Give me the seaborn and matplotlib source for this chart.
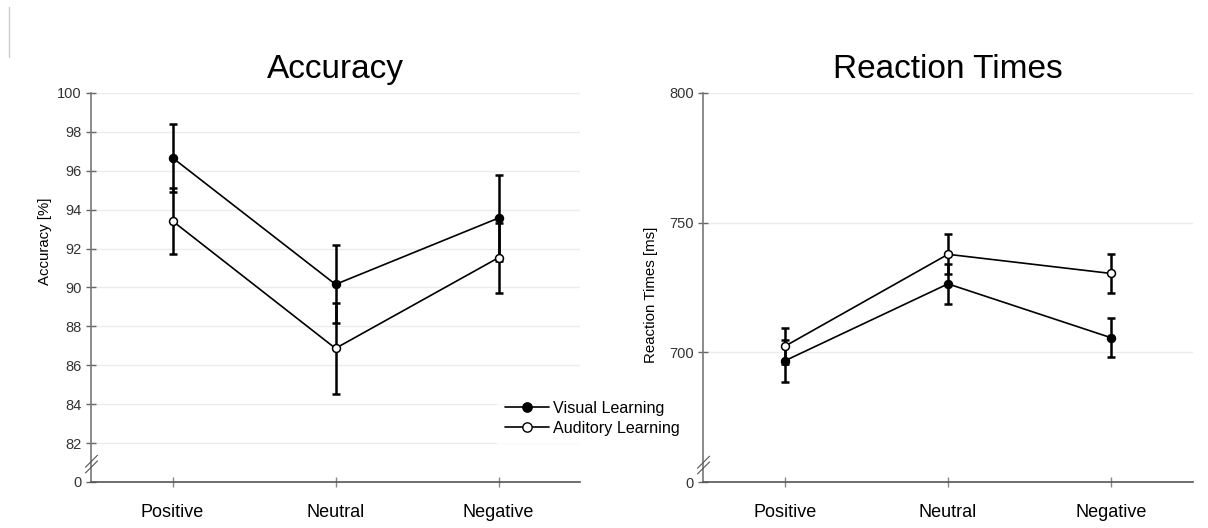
import numpy as np
import pandas as pd
import matplotlib
matplotlib.use("Agg")
import matplotlib.pyplot as plt
from matplotlib.lines import Line2D
from matplotlib.path import Path
import seaborn as sns

# ---- data -------------------------------------------------------------
conditions = ["Positive", "Neutral", "Negative"]
groups = ["Visual Learning", "Auditory Learning"]

acc_visual = [96.67, 90.16, 93.57]
acc_visual_err = [1.75, 2.00, 2.20]
acc_auditory = [93.42, 86.87, 91.53]
acc_auditory_err = [1.70, 2.34, 1.80]

rt_visual = [696.7, 726.4, 705.6]
rt_visual_err = [8.0, 7.6, 7.55]
rt_auditory = [702.3, 737.8, 730.4]
rt_auditory_err = [6.9, 7.7, 7.6]

acc_ticks = [80, 82, 84, 86, 88, 90, 92, 94, 96, 98, 100]
acc_ticklabels = ["0", "82", "84", "86", "88", "90", "92", "94", "96", "98", "100"]
rt_ticks = [650, 700, 750, 800]
rt_ticklabels = ["0", "700", "750", "800"]

# ---- style ------------------------------------------------------------
sns.set_theme(style="white")
plt.rcParams["font.family"] = ["Liberation Sans", "DejaVu Sans"]

W, H = 1208, 528
fig = plt.figure(figsize=(W / 100, H / 100), dpi=100)
ax1 = fig.add_axes([91 / W, 1 - 482 / H, 489 / W, 389 / H])
ax2 = fig.add_axes([703 / W, 1 - 482 / H, 490 / W, 389 / H])

spine_col = "#555555"
grid_col = "#ececec"
MS = 5.7
LW = 1.2

# axis-break glyph: two short parallel slashes
break_path = Path(
    [(-0.55, -0.35), (0.55, 0.75), (-0.55, -0.85), (0.55, 0.25)],
    [Path.MOVETO, Path.LINETO, Path.MOVETO, Path.LINETO],
)


def draw_panel(ax, vis, vis_err, aud, aud_err, ylim, yticks, yticklabels,
               title, ylabel, break_at, label_xy):
    df = pd.DataFrame({
        "condition": conditions * 2,
        "value": list(vis) + list(aud),
        "group": [groups[0]] * 3 + [groups[1]] * 3,
    })
    vis_df = df[df["group"] == groups[0]]
    aud_df = df[df["group"] == groups[1]]

    sns.lineplot(data=vis_df, x="condition", y="value", ax=ax, color="black",
                 lw=LW, marker="o", markersize=MS, markerfacecolor="black",
                 markeredgecolor="black", markeredgewidth=1.1, zorder=4,
                 legend=False)
    sns.lineplot(data=aud_df, x="condition", y="value", ax=ax, color="black",
                 lw=LW, marker="o", markersize=MS, markerfacecolor="white",
                 markeredgecolor="black", markeredgewidth=1.1, zorder=4,
                 legend=False)

    ax.errorbar(conditions, vis, yerr=vis_err, fmt="none", ecolor="black",
                elinewidth=1.8, capsize=2.6, capthick=1.8, zorder=3)
    ax.errorbar(conditions, aud, yerr=aud_err, fmt="none", ecolor="black",
                elinewidth=1.8, capsize=2.6, capthick=1.8, zorder=3)

    ax.set_xlim(-0.5, 2.5)
    ax.set_ylim(*ylim)
    ax.set_yticks(yticks)
    ax.set_yticklabels(yticklabels)
    ax.set_xlabel("")
    ax.set_ylabel(ylabel, fontsize=10.8, color="black")
    ax.yaxis.set_label_coords(*label_xy)
    ax.set_title(title, fontsize=24, pad=11, color="black")

    for y in yticks[1:]:
        ax.axhline(y, color=grid_col, lw=1.0, zorder=0)

    for side in ("top", "right"):
        ax.spines[side].set_visible(False)
    ax.spines["left"].set_color("#777777")
    ax.spines["bottom"].set_color(spine_col)
    ax.spines["left"].set_linewidth(1.2)
    ax.spines["bottom"].set_linewidth(1.2)

    ax.tick_params(axis="y", direction="inout", length=7, width=1,
                   color="#666666", labelsize=10.5, labelcolor="#333333",
                   pad=3, left=True)
    ax.tick_params(axis="x", direction="inout", length=7, width=1,
                   color="#888888", labelsize=13, labelcolor="black",
                   pad=12, bottom=True)

    # break marker on the y axis
    ax.plot([0], [break_at], transform=ax.get_yaxis_transform(),
            marker=break_path, markersize=14, color="#555555",
            markeredgewidth=0.8, linestyle="none", clip_on=False, zorder=6)


draw_panel(ax1, acc_visual, acc_visual_err, acc_auditory, acc_auditory_err,
           (80, 100), acc_ticks, acc_ticklabels, "Accuracy", "Accuracy [%]",
           81.0, (-0.08, 0.62))
draw_panel(ax2, rt_visual, rt_visual_err, rt_auditory, rt_auditory_err,
           (650, 800), rt_ticks, rt_ticklabels, "Reaction Times",
           "Reaction Times [ms]", 657.0, (-0.092, 0.48))

# shared legend
handles = [
    Line2D([], [], color="black", lw=LW, marker="o", markersize=MS + 1,
           markerfacecolor="black", markeredgecolor="black"),
    Line2D([], [], color="black", lw=LW, marker="o", markersize=MS + 1,
           markerfacecolor="white", markeredgecolor="black"),
]
leg = fig.legend(handles, groups, loc="upper left",
                 bbox_to_anchor=(489 / W, 1 - 385 / H), frameon=True,
                 fontsize=11.6, handlelength=2.7, handletextpad=0.25,
                 labelspacing=0.3, borderpad=0.5, fancybox=False,
                 labelcolor="black")
leg.get_frame().set_facecolor("white")
leg.get_frame().set_edgecolor("white")
leg.get_frame().set_linewidth(0)

# thin vertical rule at the top-left corner
fig.add_artist(Line2D([9 / W, 9 / W], [1 - 7 / H, 1 - 57 / H],
                      transform=fig.transFigure, color="#cccccc", lw=1))

fig.savefig("out.png", dpi=100, facecolor="white")
